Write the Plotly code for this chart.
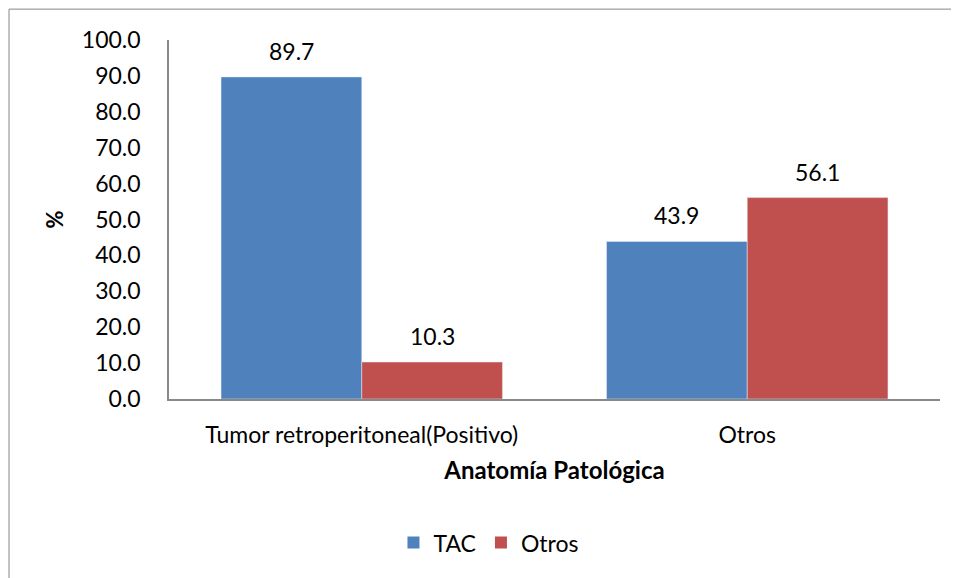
import plotly.graph_objects as go

categories = ["Tumor retroperitoneal(Positivo)", "Otros"]
tac_values = [89.7, 43.9]
otros_values = [10.3, 56.1]
y_ticks = [0, 10, 20, 30, 40, 50, 60, 70, 80, 90, 100]

font_family = "Lato, Open Sans, sans-serif"
blue = "#4F81BD"
red = "#C0504D"
bargap = 0.27

fig = go.Figure()

fig.add_trace(go.Bar(x=categories, y=tac_values, name="TAC",
                     marker_color=blue, showlegend=False))
fig.add_trace(go.Bar(x=categories, y=otros_values, name="Otros",
                     marker_color=red, showlegend=False))

# legend entries with bigger square swatches
for name, color in [("TAC", blue), ("Otros", red)]:
    fig.add_trace(go.Scatter(x=[None], y=[None], mode="markers", name=name,
                             marker=dict(symbol="square", size=16, color=color)))

# value labels above the bars
half = (1 - bargap) / 4
annotations = []
for i in range(len(categories)):
    for off, vals in [(-half, tac_values), (half, otros_values)]:
        annotations.append(dict(
            x=i + off, y=vals[i], xref="x", yref="y",
            text=f"{vals[i]:.1f}", showarrow=False,
            yanchor="bottom", yshift=10,
            font=dict(size=23, color="black"),
        ))

fig.update_layout(
    width=959, height=578,
    barmode="group", bargap=bargap, bargroupgap=0,
    plot_bgcolor="white", paper_bgcolor="white",
    font=dict(family=font_family, size=23, color="black"),
    margin=dict(l=161, r=27, t=32, b=187, autoexpand=False),
    showlegend=True,
    legend=dict(orientation="h", x=0.415, xanchor="center", y=-0.40, yanchor="middle",
                font=dict(size=23), itemsizing="constant", traceorder="normal",
                itemwidth=30, tracegroupgap=0),
    annotations=annotations,
    xaxis=dict(
        showline=True, linecolor="#898989", linewidth=1.5,
        ticks="", tickfont=dict(size=23), ticklabelstandoff=15,
        title=dict(text="<b>Anatomía Patológica</b>", font=dict(size=24), standoff=15),
    ),
    yaxis=dict(
        range=[0, 100], tickvals=y_ticks, tickformat=".1f",
        showline=True, linecolor="#898989", linewidth=1.5,
        showgrid=False, zeroline=False, ticks="",
        ticklabelstandoff=22,
        tickfont=dict(size=23),
        title=dict(text="<b>%</b>", font=dict(size=22), standoff=12),
    ),
    shapes=[dict(type="rect", xref="paper", yref="paper",
                 x0=-0.2075, x1=1.06, y0=-0.56, y1=1.086,
                 line=dict(color="#868686", width=1))],
)

fig.write_html("out.html")
